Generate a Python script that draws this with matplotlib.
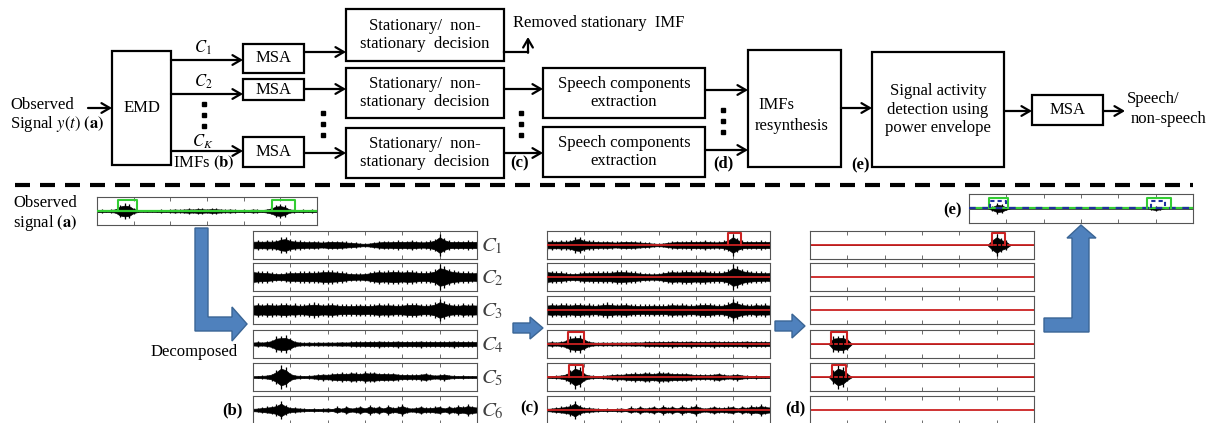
import numpy as np
import matplotlib.pyplot as plt
from matplotlib.patches import Rectangle, Polygon

plt.rcParams['font.family'] = ['Liberation Serif', 'DejaVu Serif']
plt.rcParams['mathtext.fontset'] = 'stix'

W, H = 1213, 423

# signal envelopes (fraction of half panel height), read every 1/8 of the 6 time units
t = np.linspace(0, 6, 49)

observed = [.10, .12, .10, .12, .15, .45, .55, .50, .20, .10, .08, .10, .08, .10, .12, .10,
            .12, .15, .12, .15, .18, .15, .20, .18, .15, .20, .18, .15, .12, .15, .12, .10,
            .12, .10, .15, .12, .10, .15, .25, .45, .50, .40, .15, .12, .10, .12, .10, .12, .10]

c1 = [.33, .35, .32, .36, .33, .38, .55, .60, .40, .35, .33, .30, .28, .30, .27, .25,
      .30, .32, .30, .28, .25, .22, .18, .14, .12, .15, .22, .27, .30, .28, .30, .33,
      .30, .32, .35, .30, .27, .28, .33, .45, .80, .50, .33, .30, .32, .30, .33, .30, .32]
c2 = [.50, .45, .42, .40, .35, .30, .30, .35, .40, .38, .42, .40, .45, .42, .45, .50,
      .50, .48, .45, .40, .35, .30, .28, .27, .30, .38, .45, .50, .45, .48, .52, .50,
      .45, .50, .48, .45, .40, .40, .45, .55, .90, .80, .60, .50, .45, .42, .40, .38, .40]
c3 = [.45, .50, .45, .50, .48, .45, .50, .52, .45, .48, .42, .45, .50, .55, .50, .45,
      .48, .50, .45, .42, .40, .40, .42, .45, .42, .40, .45, .50, .45, .48, .45, .42,
      .45, .50, .52, .50, .45, .42, .45, .55, .80, .65, .50, .45, .42, .50, .45, .48, .45]
c4 = [.15, .18, .15, .20, .30, .55, .60, .62, .45, .20, .15, .12, .15, .12, .15, .13,
      .15, .14, .15, .17, .15, .18, .20, .18, .20, .22, .20, .25, .22, .20, .22, .25,
      .20, .22, .20, .22, .25, .20, .22, .20, .22, .20, .22, .25, .20, .22, .20, .20, .20]
c5 = [.08, .10, .12, .15, .25, .50, .85, .70, .30, .15, .12, .10, .12, .15, .20, .25,
      .22, .28, .30, .35, .30, .38, .35, .30, .40, .35, .38, .30, .32, .28, .30, .25,
      .20, .22, .18, .20, .25, .30, .20, .15, .18, .25, .15, .12, .10, .12, .10, .10, .10]
c6 = [.12, .15, .20, .25, .30, .40, .65, .35, .20, .18, .15, .12, .10, .12, .10, .12,
      .15, .10, .25, .12, .30, .15, .20, .30, .15, .35, .20, .30, .15, .35, .20, .25,
      .40, .20, .15, .20, .30, .18, .20, .25, .30, .15, .30, .20, .35, .25, .40, .30, .25]
imfs = [c1, c2, c3, c4, c5, c6]
imf_labels = [r'$C_{\mathit{1}}$', r'$C_{\mathit{2}}$', r'$C_{\mathit{3}}$',
              r'$C_{\mathit{4}}$', r'$C_{\mathit{5}}$', r'$C_{\mathit{6}}$']

final = [0, 0, 0, 0, 0, .15, .35, .30, .10, 0, 0, 0, 0, 0, 0, 0,
         0, 0, 0, 0, 0, 0, 0, 0, 0, 0, 0, 0, 0, 0, 0, 0,
         0, 0, 0, 0, 0, 0, 0, .08, .15, .08, 0, 0, 0, 0, 0, 0, 0]

speech_obs = [(0.57, 1.09), (4.77, 5.40)]
speech_imf = {0: (4.87, 5.22), 3: (0.56, 1.00), 4: (0.60, 0.97)}
final_green = [(0.54, 1.04), (4.77, 5.40)]
final_blue = [(0.56, 0.99), (4.87, 5.25)]

row_top = [231, 263, 296, 330, 363, 396]

fig = plt.figure(figsize=(W / 100, H / 100), dpi=100)
ax = fig.add_axes([0, 0, 1, 1])
ax.set_xlim(0, W)
ax.set_ylim(H, 0)
ax.axis('off')

FS = 12


def box(x0, y0, x1, y1, text=None, tx=None, ty=None, ha='center'):
    ax.add_patch(Rectangle((x0, y0), x1 - x0, y1 - y0, fill=False, lw=1.6, ec='k'))
    if text:
        ax.text((x0 + x1) / 2 if tx is None else tx, (y0 + y1) / 2 if ty is None else ty,
                text, ha=ha, va='center', fontsize=FS)


def arrow(x0, y0, x1, y1):
    ax.annotate('', xy=(x1, y1), xytext=(x0, y0),
                arrowprops=dict(arrowstyle='->,head_length=0.6,head_width=0.35', lw=1.6,
                                color='k', shrinkA=0, shrinkB=0))


def dots(x, y0):
    ax.plot([x, x, x], [y0, y0 + 11, y0 + 22], 's', color='k', ms=2.6)


# ---- block diagram
ax.text(10, 105, 'Observed', fontsize=FS, va='center')
ax.text(10, 124, r'Signal $y(t)$ $\mathbf{(a)}$', fontsize=FS, va='center')
arrow(88, 108, 112, 108)
box(112, 51, 171, 165, 'EMD', ty=108)

for yl, ya, lab in [(48, 60, r'$C_{\mathit{1}}$'), (82, 94, r'$C_{\mathit{2}}$'),
                    (142, 151, '$C_K$')]:
    ax.text(203, yl, lab, fontsize=FS, ha='center', va='center')
    arrow(171, ya, 243, ya)
dots(204, 104)
ax.text(173, 163, r'IMFs $\mathbf{(b)}$', fontsize=FS, va='center')

box(243, 44, 304, 73, 'MSA')
box(243, 79, 304, 100, 'MSA')
box(243, 137, 304, 167, 'MSA')

stat = 'Stationary/  non-\nstationary  decision'
box(346, 9, 504, 61, stat)
box(346, 68, 504, 118, stat)
box(346, 128, 504, 178, stat)
arrow(304, 52, 346, 52)
arrow(304, 89, 346, 89)
arrow(304, 153, 346, 153)
dots(323, 113)

ax.plot([504, 528], [52, 52], color='k', lw=1.6)
arrow(528, 52.8, 528, 37)
ax.text(513, 23, 'Removed stationary  IMF', fontsize=FS, va='center')

speech = 'Speech components\nextraction'
box(543, 68, 705, 118, speech)
box(543, 127, 705, 177, speech)
arrow(504, 89, 543, 89)
arrow(504, 153, 543, 153)
dots(521, 113)
ax.text(520, 163, '(c)', fontsize=FS, fontweight='bold', ha='center', va='center')

box(748, 50, 841, 167)
ax.text(758, 105, 'IMFs', fontsize=FS, va='center')
ax.text(792, 126, 'resynthesis', fontsize=FS, ha='center', va='center')
arrow(705, 90, 748, 90)
arrow(705, 150, 748, 150)
dots(723, 110)
ax.text(723, 163, '(d)', fontsize=FS, fontweight='bold', ha='center', va='center')

box(872, 52, 1004, 167, 'Signal activity\ndetection using\npower envelope')
arrow(841, 108, 872, 108)
ax.text(861, 165, '(e)', fontsize=FS, fontweight='bold', ha='center', va='center')

box(1032, 95, 1103, 125, 'MSA')
arrow(1004, 111, 1032, 111)
arrow(1103, 111, 1125, 111)
ax.text(1127, 99, 'Speech/', fontsize=FS, va='center')
ax.text(1131, 119, 'non-speech', fontsize=FS, va='center')

ax.plot([15, 1193], [185, 185], color='k', lw=3, dashes=(3.6, 2.4))

# ---- blue arrows
blue = dict(fc='#4F81BD', ec='#3A6595', lw=1)
ax.add_patch(Polygon([(195, 228), (208, 228), (208, 317), (232, 317), (232, 307), (247, 324),
                      (232, 341), (232, 331), (195, 331)], **blue))
ax.add_patch(Polygon([(513, 323), (530, 323), (530, 317), (543, 328), (530, 339), (530, 333),
                      (513, 333)], **blue))
ax.add_patch(Polygon([(775, 321), (792, 321), (792, 314), (805, 326), (792, 338), (792, 331),
                      (775, 331)], **blue))
ax.add_patch(Polygon([(1044, 318), (1072, 318), (1072, 238), (1067, 238), (1081, 225),
                      (1096, 238), (1089, 238), (1089, 332), (1044, 332)], **blue))

# ---- lower texts
ax.text(13, 203, 'Observed', fontsize=FS, va='center')
ax.text(13, 223, r'signal $\mathbf{(a)}$', fontsize=FS, va='center')
ax.text(194, 352, 'Decomposed', fontsize=FS, ha='center', va='center')
ax.text(232, 410, '(b)', fontsize=FS, fontweight='bold', ha='center', va='center')
ax.text(530, 408, '(c)', fontsize=FS, fontweight='bold', ha='center', va='center')
ax.text(795, 408, '(d)', fontsize=FS, fontweight='bold', ha='center', va='center')
ax.text(953, 210, '(e)', fontsize=FS, fontweight='bold', ha='center', va='center')
for top, lab in zip(row_top, imf_labels):
    ax.text(492, top + 15, lab, fontsize=15, color='#404040', ha='center', va='center')


def panel(x0, y0, w, h):
    a = fig.add_axes([x0 / W, 1 - (y0 + h) / H, w / W, h / H])
    a.set_xlim(0, 6)
    a.set_ylim(-1, 1)
    a.set_xticks([1, 2, 3, 4, 5])
    a.set_yticks([])
    a.tick_params(axis='x', direction='in', length=3, width=0.6, color='#555555',
                  top=True, bottom=True, labelbottom=False)
    for s in a.spines.values():
        s.set_color('#555555')
        s.set_linewidth(0.8)
    return a


def signal(a, env):
    # dense core plus a thin spike at each reading
    env = np.array(env, dtype=float)
    a.fill_between(t, -0.7 * env, 0.7 * env, color='k', lw=0.5)
    a.vlines(t, -env, env, color='k', lw=0.9)


def speech_box(a, span, top, color, ls='-'):
    a.plot([span[0], span[0], span[1], span[1]], [0, top, top, 0], color=color, lw=1.5,
           ls=ls, zorder=4)


# observed signal (a)
a = panel(97, 197, 220, 28)
signal(a, observed)
a.axhline(0, color='#33CC33', lw=1.6, zorder=3)
for sp in speech_obs:
    speech_box(a, sp, 0.75, '#33CC33')

for i, top in enumerate(row_top):
    # (b) decomposed IMFs
    a = panel(253, top, 224, 28)
    signal(a, imfs[i])
    # (c) with speech component marks
    a = panel(547, top, 223, 28)
    signal(a, imfs[i])
    a.axhline(0, color='#CC2222', lw=1.3, zorder=3)
    if i in speech_imf:
        speech_box(a, speech_imf[i], 0.85, '#CC2222')
    # (d) extracted speech components
    a = panel(810, top, 224, 28)
    a.axhline(0, color='#CC2222', lw=1.3, zorder=2)
    if i in speech_imf:
        lo, hi = speech_imf[i]
        kept = np.where((t >= lo - 0.05) & (t <= hi + 0.05), imfs[i], 0)
        signal(a, kept)
        speech_box(a, speech_imf[i], 0.85, '#CC2222')

# (e) detected activity
a = panel(969, 194, 224, 29)
signal(a, final)
a.axhline(0, color='#33CC33', lw=1.6, zorder=3)
a.axhline(0, color='#1F2F9F', lw=1.6, ls=(0, (3, 3)), zorder=4)
for sp in final_green:
    speech_box(a, sp, 0.72, '#33CC33')
for sp in final_blue:
    speech_box(a, sp, 0.55, '#1F2F9F', ls=(0, (2, 1.5)))

fig.savefig('out.png', dpi=100)
